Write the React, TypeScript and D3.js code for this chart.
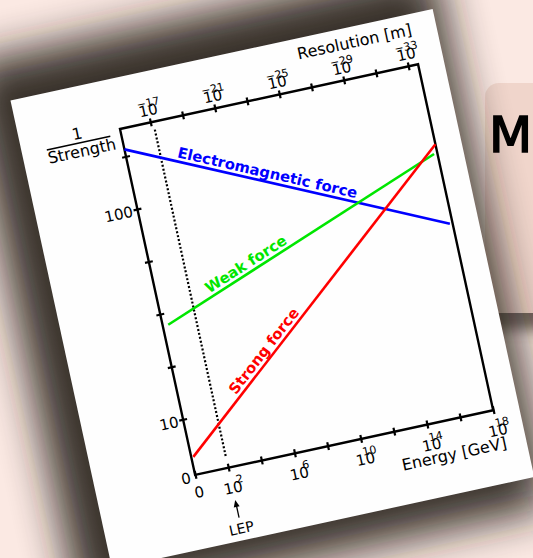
import React, { useEffect, useRef } from "react";
import * as d3 from "d3";

// force lines: left and right end of each line (energy in GeV, 1/strength)
const forceNames = ["Electromagnetic force", "Weak force", "Strong force"];
const lowEnergy = [1, 2.15, 1.33];
const highEnergy = [6.9e17, 6.3e17, 1e18];
const lowInverse = [192, 27.8, 6.6];
const highInverse = [42.2, 90.6, 100];
const labelEnergy = [660, 1500, 3240];
const forceColors = ["#0000ff", "#00e600", "#ff0000"];

const energyTicks = [1, 1e2, 1e4, 1e6, 1e8, 1e10, 1e12, 1e14, 1e16, 1e18];
const energyLabels = ["0", "10^2", "", "10^6", "", "10^10", "", "10^14", "", "10^18"];
const resolutionTicks = [1e-17, 1e-19, 1e-21, 1e-23, 1e-25, 1e-27, 1e-29, 1e-31, 1e-33];
const resolutionLabels = ["10^−17", "", "10^−21", "", "10^−25", "", "10^−29", "", "10^−33"];
const strengthTicks = [10, 10 ** 1.25, 10 ** 1.5, 10 ** 1.75, 100, 10 ** 2.25];
const strengthLabels = ["10", "", "", "", "100", ""];
const lepEnergy = 100;

const W = 305;
const H = 354;
const FONT = "'DejaVu Sans', sans-serif";

const App = () => {
  const ref = useRef<SVGSVGElement>(null);

  useEffect(() => {
    const svg = d3.select(ref.current);
    svg.selectAll("*").remove();

    const defs = svg.append("defs");
    defs.append("filter").attr("id", "bigblur").attr("x", "-30%").attr("y", "-30%").attr("width", "160%").attr("height", "160%")
      .append("feGaussianBlur").attr("stdDeviation", 22);
    defs.append("filter").attr("id", "smallblur").attr("x", "-50%").attr("y", "-50%").attr("width", "200%").attr("height", "200%")
      .append("feGaussianBlur").attr("stdDeviation", 7);

    // slide background
    svg.append("rect").attr("width", 533).attr("height", 558).attr("fill", "#fbe9e3");
    svg.append("rect").attr("x", 484).attr("y", 296).attr("width", 70).attr("height", 34)
      .attr("fill", "#4a3c38").attr("opacity", 0.75).attr("filter", "url(#smallblur)");
    svg.append("rect").attr("x", 485).attr("y", 83).attr("width", 70).attr("height", 230).attr("rx", 14)
      .attr("fill", "#f0d5cb");
    svg.append("text").attr("x", 489).attr("y", 152).attr("font-family", FONT).attr("font-size", 50)
      .attr("fill", "#000").attr("stroke", "#000").attr("stroke-width", 1.6).text("M");

    // rotated paper with the chart
    const page = svg.append("g").attr("transform", "translate(120,129) rotate(-12.25)");
    page.append("rect").attr("x", -140).attr("y", -95).attr("width", 480).attr("height", 555)
      .attr("fill", "#241a17").attr("opacity", 0.9).attr("filter", "url(#bigblur)");
    page.append("rect").attr("x", -101).attr("y", -51).attr("width", 432).attr("height", 479).attr("fill", "#fefefe");

    const x = d3.scaleLog().domain([1, 1e18]).range([0, W]);
    const xTop = d3.scaleLog().domain([10 ** -15.12, 10 ** -33.61]).range([0, W]);
    const y = d3.scaleLog().domain([5.44, 240]).range([H, 0]);

    const putLabel = (g, label, baseY, supY) => {
      if (!label) return;
      const [base, sup] = label.split("^");
      g.append("text").attr("y", baseY).attr("text-anchor", "middle")
        .attr("fill", "#000").attr("font-size", 15).text(base);
      if (sup) {
        const dx = sup.startsWith("−") ? 1.4 : sup.length === 1 ? 8 : 5.5;
        g.append("text").attr("x", dx).attr("y", supY)
          .attr("fill", "#000").attr("font-size", 11).text(sup);
      }
    };

    // bottom axis (energy)
    const bottom = page.append("g").attr("transform", `translate(0,${H})`)
      .call(d3.axisBottom(x).tickValues(energyTicks).tickSizeOuter(0).tickFormat(() => ""));
    bottom.select(".domain").remove();
    bottom.selectAll(".tick line").attr("y1", -4).attr("y2", 4).attr("stroke-width", 2.2);
    bottom.attr("font-family", FONT).attr("font-size", null);
    bottom.selectAll(".tick").each(function (d, i) {
      const g = d3.select(this);
      g.select("text").remove();
      if (energyLabels[i] === "0") {
        g.append("text").attr("y", 23).attr("text-anchor", "middle").attr("fill", "#000")
          .attr("font-size", 15).text("0");
      } else {
        putLabel(g, energyLabels[i], 26, 17);
      }
    });

    // top axis (resolution)
    const top = page.append("g")
      .call(d3.axisTop(xTop).tickValues(resolutionTicks).tickSizeOuter(0).tickFormat(() => ""));
    top.select(".domain").remove();
    top.selectAll(".tick line").attr("y1", -4).attr("y2", 4).attr("stroke-width", 2.2);
    top.attr("font-family", FONT).attr("font-size", null);
    top.selectAll(".tick").each(function (d, i) {
      const g = d3.select(this);
      g.select("text").remove();
      putLabel(g, resolutionLabels[i], -7, -16);
    });

    // left axis (1/strength)
    const left = page.append("g")
      .call(d3.axisLeft(y).tickValues(strengthTicks).tickSizeOuter(0).tickFormat(() => ""));
    left.select(".domain").remove();
    left.selectAll(".tick line").attr("x1", -4).attr("x2", 4).attr("stroke-width", 2.2);
    left.attr("font-family", FONT).attr("font-size", null);
    left.selectAll(".tick").each(function (d, i) {
      const g = d3.select(this);
      g.select("text").remove();
      if (strengthLabels[i]) {
        g.append("text").attr("x", -5).attr("y", 6).attr("text-anchor", "end").attr("fill", "#000")
          .attr("font-size", 15).text(strengthLabels[i]);
      }
    });
    page.append("text").attr("x", -5).attr("y", H + 7).attr("text-anchor", "end")
      .attr("font-family", FONT).attr("font-size", 15).text("0");

    // frame
    page.append("rect").attr("width", W).attr("height", H).attr("fill", "none")
      .attr("stroke", "#000").attr("stroke-width", 2.4);

    // LEP marker
    page.append("line").attr("x1", x(lepEnergy)).attr("x2", x(lepEnergy)).attr("y1", 8).attr("y2", H - 11)
      .attr("stroke", "#000").attr("stroke-width", 2.2).attr("stroke-dasharray", "2,2");
    page.append("line").attr("x1", x(lepEnergy)).attr("x2", x(lepEnergy)).attr("y1", H + 38).attr("y2", H + 51)
      .attr("stroke", "#000").attr("stroke-width", 1.3);
    page.append("path")
      .attr("d", `M${x(lepEnergy)},${H + 33} l-3,7 l6,0 z`).attr("fill", "#000");
    page.append("text").attr("x", x(lepEnergy)).attr("y", H + 67).attr("text-anchor", "middle")
      .attr("font-family", FONT).attr("font-size", 14).text("LEP");

    // force lines
    const line = d3.line<[number, number]>().x((d) => x(d[0])).y((d) => y(d[1]));
    forceNames.forEach((name, i) => {
      const pts: [number, number][] = [[lowEnergy[i], lowInverse[i]], [highEnergy[i], highInverse[i]]];
      page.append("path").datum(pts).attr("d", line).attr("fill", "none")
        .attr("stroke", forceColors[i]).attr("stroke-width", 2.6);
      const x0 = x(lowEnergy[i]), x1 = x(highEnergy[i]);
      const y0 = y(lowInverse[i]), y1 = y(highInverse[i]);
      const px = x(labelEnergy[i]);
      const py = y0 + ((px - x0) / (x1 - x0)) * (y1 - y0);
      const angle = (Math.atan2(y1 - y0, x1 - x0) * 180) / Math.PI;
      page.append("text").attr("transform", `translate(${px},${py}) rotate(${angle})`)
        .attr("y", -4).attr("font-family", FONT).attr("font-weight", "bold").attr("font-size", 14.8)
        .attr("fill", forceColors[i]).text(name);
    });

    // axis titles
    page.append("text").attr("x", W + 1).attr("y", -30).attr("text-anchor", "end")
      .attr("font-family", FONT).attr("font-size", 16).text("Resolution [m]");
    page.append("text").attr("x", W + 6).attr("y", H + 40).attr("text-anchor", "end")
      .attr("font-family", FONT).attr("font-size", 16).text("Energy [GeV]");
    page.append("text").attr("x", -43).attr("y", 1).attr("text-anchor", "middle")
      .attr("font-family", FONT).attr("font-size", 16).text("1");
    page.append("line").attr("x1", -76).attr("x2", -11).attr("y1", 5).attr("y2", 5)
      .attr("stroke", "#000").attr("stroke-width", 1.6);
    page.append("text").attr("x", -42).attr("y", 19).attr("text-anchor", "middle")
      .attr("font-family", FONT).attr("font-size", 16).text("Strength");
  }, []);

  return (
    <svg ref={ref} width={533} height={558} style={{ position: "absolute", left: 0, top: 0 }}></svg>
  );
};

export default App;
